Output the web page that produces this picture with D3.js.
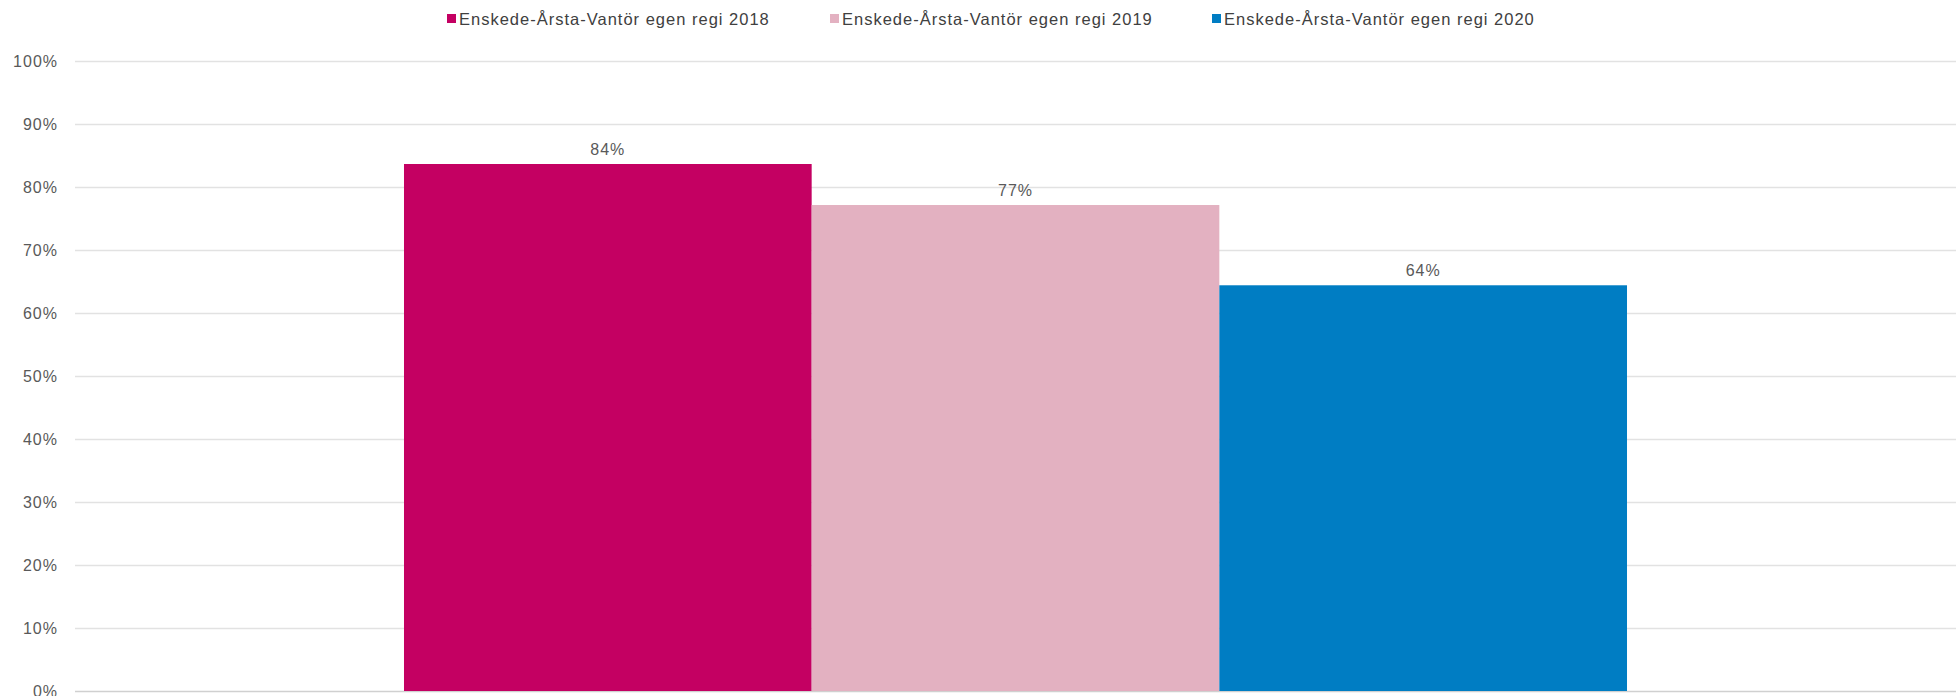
<!DOCTYPE html>
<html>
<head>
<meta charset="utf-8">
<script src="https://cdn.jsdelivr.net/npm/d3@7"></script>
<style>
  body { margin: 0; background: #fff; }
  text { font-family: "Liberation Sans", Arial, sans-serif; fill: #595959; }
</style>
</head>
<body>
<div id="chart"></div>
<script>
// data
var categories = ["Enskede-Årsta-Vantör"];
var seriesNames = ["Enskede-Årsta-Vantör egen regi 2018", "Enskede-Årsta-Vantör egen regi 2019", "Enskede-Årsta-Vantör egen regi 2020"];
var seriesValues = [0.8365, 0.7714, 0.644];
var seriesColors = ["#c40062", "#e3b1c1", "#007dc3"];
var yTicks = [0, 0.1, 0.2, 0.3, 0.4, 0.5, 0.6, 0.7, 0.8, 0.9, 1.0];

var width = 1959, height = 696;
var margin = {top: 61, right: 3, bottom: 5, left: 75};

var svg = d3.select("#chart")
  .append("svg")
  .attr("width", width)
  .attr("height", height);

var x = d3.scaleBand()
  .domain(categories)
  .range([margin.left, width - margin.right])
  .paddingInner(0)
  .paddingOuter(0.269);

var xs = d3.scaleBand()
  .domain(seriesNames)
  .range([0, x.bandwidth()])
  .padding(0);

var y = d3.scaleLinear()
  .domain([0, 1])
  .range([height - margin.bottom, margin.top]);

// gridlines + tick labels
var yAxis = svg.append("g")
  .attr("transform", "translate(" + margin.left + ",0)")
  .call(d3.axisLeft(y)
    .tickValues(yTicks)
    .tickSize(-(width - margin.left - margin.right))
    .tickPadding(17)
    .tickFormat(d3.format(".0%")));

yAxis.select(".domain").remove();
yAxis.selectAll(".tick line")
  .attr("stroke", function(d) { return d === 0 ? "#d0d0d0" : "#e2e2e2"; })
  .attr("stroke-width", 1.3);
yAxis.selectAll(".tick text")
  .style("fill", "#595959")
  .style("font-size", "16px")
  .style("letter-spacing", "1px")
  .attr("dy", "0.36em");

// bars
var rows = [];
categories.forEach(function(c) {
  seriesNames.forEach(function(s, i) {
    rows.push({cat: c, name: s, value: seriesValues[i], color: seriesColors[i]});
  });
});

var bars = svg.append("g");
bars.selectAll("rect")
  .data(rows)
  .enter()
  .append("rect")
  .attr("x", function(d) { return x(d.cat) + xs(d.name); })
  .attr("y", function(d) { return y(d.value); })
  .attr("width", xs.bandwidth())
  .attr("height", function(d) { return y(0) - y(d.value); })
  .attr("fill", function(d) { return d.color; });

bars.selectAll("text")
  .data(rows)
  .enter()
  .append("text")
  .attr("x", function(d) { return x(d.cat) + xs(d.name) + xs.bandwidth() / 2; })
  .attr("y", function(d) { return y(d.value) - 9; })
  .attr("text-anchor", "middle")
  .style("font-size", "16px")
  .style("letter-spacing", "1px")
  .text(function(d) { return d3.format(".0%")(d.value); });

// legend
var legend = svg.append("g");
var legendX = [447, 830, 1212];
var item = legend.selectAll("g")
  .data(seriesNames)
  .enter()
  .append("g")
  .attr("transform", function(d, i) { return "translate(" + legendX[i] + ",0)"; });

item.append("rect")
  .attr("x", 0)
  .attr("y", 14)
  .attr("width", 9)
  .attr("height", 9)
  .attr("fill", function(d, i) { return seriesColors[i]; });

item.append("text")
  .attr("x", 12)
  .attr("y", 25)
  .style("font-size", "16.5px")
  .style("letter-spacing", "1px")
  .style("fill", "#404040")
  .text(function(d) { return d; });
</script>
</body>
</html>
